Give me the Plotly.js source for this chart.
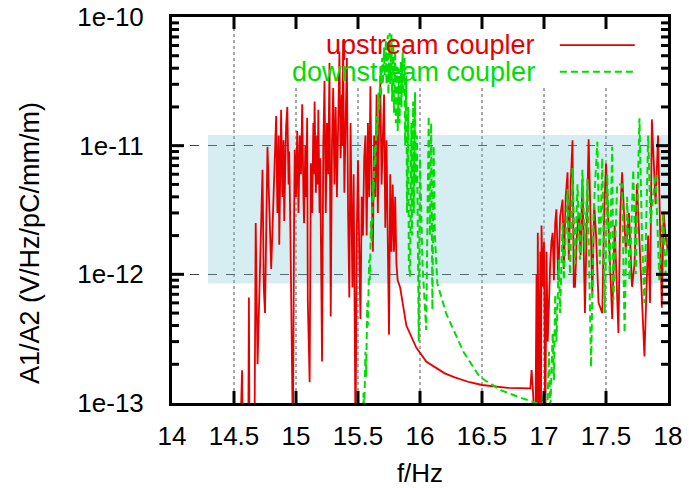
<!DOCTYPE html>
<html>
<head>
<meta charset="utf-8">
<script src="https://cdn.plot.ly/plotly-3.0.1.min.js"></script>
<style>html,body{margin:0;padding:0;background:#fff;}#chart{width:689px;height:488px;}</style>
</head>
<body>
<div id="chart"></div>
<script>
// ---- upstream coupler (red) ----
const upFreq = [
  14.550,14.565,14.570,14.615,14.620,14.625,14.665,14.675,14.690,14.700,
  14.730,14.740,14.750,14.770,14.800,14.840,14.850,14.860,14.865,14.880,
  14.890,14.900,14.905,14.920,14.930,14.940,14.945,14.955,14.975,14.985,
  14.990,15.000,15.010,15.020,15.030,15.040,15.050,15.060,15.065,15.075,
  15.080,15.090,15.095,15.110,15.120,15.130,15.140,15.145,15.150,15.160,
  15.170,15.175,15.180,15.190,15.195,15.210,15.220,15.230,15.240,15.250,
  15.260,15.270,15.280,15.290,15.300,15.310,15.320,15.330,15.340,15.350,
  15.360,15.370,15.375,15.380,15.390,15.400,15.410,15.420,15.430,15.440,
  15.455,15.465,15.480,15.490,15.500,15.510,15.520,15.530,15.540,15.550,
  15.560,15.570,15.580,15.590,15.600,15.610,15.620,15.630,15.640,15.650,
  15.660,15.670,15.680,15.690,15.700,15.710,15.720,15.730,15.745,15.750,
  15.760,15.770,15.780,15.790,15.800,15.810,15.820,15.840,15.860,15.890,
  15.970,16.050,16.120,16.200,16.280,16.400,16.500,16.600,16.710,16.890,
  16.900,16.910,16.930,16.940,16.945,16.950,16.960,16.970,16.975,16.980,
  16.990,17.000,17.010,17.020,17.030,17.050,17.060,17.070,17.080,17.090,
  17.100,17.115,17.130,17.150,17.160,17.175,17.190,17.200,17.215,17.230,
  17.240,17.250,17.265,17.280,17.295,17.310,17.330,17.345,17.360,17.390,
  17.405,17.420,17.440,17.470,17.485,17.500,17.530,17.550,17.570,17.600,
  17.615,17.630,17.660,17.685,17.710,17.730,17.750,17.780,17.810,17.840,
  17.855,17.870,17.900,17.920,17.950,17.965,17.980,18.000
];
const upAmp = [
  5e-14,1.8e-13,5e-14,5e-14,6.6e-13,5e-14,5e-14,2.5e-12,2.0e-13,5e-13,
  6.5e-12,7.9e-13,5e-13,9.8e-12,1.1e-12,1.7e-11,3e-12,1.2e-11,1.7e-12,1.9e-11,
  4e-12,1.1e-11,2.6e-12,1.4e-11,2.0e-11,5e-12,9e-12,2.1e-12,5e-14,3e-12,
  9.3e-12,4e-12,1.3e-11,3e-12,1.2e-11,6e-12,2.1e-11,4e-12,2.5e-12,1e-11,
  4e-12,1.65e-11,6.3e-13,1.45e-13,7.3e-12,3e-12,1.5e-11,6e-12,2.2e-11,4.3e-12,
  1.2e-11,5e-12,1.9e-11,3e-12,8e-12,2.1e-13,1e-11,3.2e-11,3e-12,1.5e-11,
  6e-12,4.4e-11,4.7e-13,1e-11,2.8e-11,5e-12,2e-11,4e-12,1.8e-11,5.4e-11,
  8e-12,2.5e-11,1e-11,6.6e-11,4.3e-12,2e-11,4.8e-11,3e-12,6.6e-13,1.5e-11,
  7.9e-13,6e-12,5e-14,2e-12,7.7e-12,1.5e-12,4.5e-13,4e-12,2e-12,8e-12,
  1.2e-11,2e-12,1.5e-11,4e-12,2.9e-11,5e-12,1.5e-12,1.2e-11,4e-12,2.5e-11,
  3e-12,1.5e-11,3.1e-11,5e-12,1.5e-11,2.5e-11,2.3e-12,1.1e-11,8e-13,3.4e-13,
  6e-12,1.5e-12,5e-12,1.5e-12,4e-12,1.2e-12,9e-13,7.9e-13,6e-13,4e-13,
  2.7e-13,2.1e-13,1.9e-13,1.7e-13,1.58e-13,1.45e-13,1.38e-13,1.34e-13,1.31e-13,1.30e-13,
  1.8e-13,1.3e-13,5e-14,1.0e-12,5e-14,2.1e-12,5e-14,1.5e-12,5e-14,2.4e-12,
  8e-13,1.8e-12,5e-14,1.5e-12,3e-13,1.2e-12,1.8e-12,2.1e-12,9e-13,2.5e-12,
  3.2e-12,9e-13,2.8e-12,3.8e-12,1.1e-12,4e-12,6.2e-12,1.3e-12,5e-12,1.1e-11,
  8e-13,8e-13,2e-12,3e-12,1.4e-12,5.5e-12,5e-13,2.5e-12,1.12e-11,7e-13,
  3.5e-12,2e-12,6e-13,5e-13,3e-12,7.3e-12,1.5e-12,4.5e-13,2.4e-12,3.5e-13,
  3e-12,6.2e-12,1.5e-12,3e-12,8e-13,1.2e-12,5e-12,1e-12,2.3e-13,2e-12,
  6e-13,1.6e-11,3.5e-12,1.2e-11,5.5e-13,3e-12,2e-12,1.5e-12
];

// ---- downstream coupler (green) ----
const downFreq = [
  15.530,15.545,15.550,15.560,15.565,15.575,15.580,15.590,15.595,15.605,
  15.610,15.620,15.625,15.635,15.640,15.650,15.655,15.665,15.670,15.680,
  15.685,15.695,15.700,15.710,15.715,15.725,15.730,15.740,15.745,15.755,
  15.760,15.770,15.775,15.785,15.790,15.800,15.805,15.815,15.820,15.830,
  15.835,15.845,15.850,15.860,15.865,15.875,15.880,15.890,15.895,15.905,
  15.910,15.920,15.930,15.935,15.945,15.950,15.960,15.965,15.975,15.990,
  16.000,16.020,16.050,16.070,16.080,16.090,16.100,16.110,16.120,16.130,
  16.140,16.210,16.350,16.480,16.650,16.810,16.940,16.980,17.000,17.020,
  17.040,17.050,17.070,17.080,17.090,17.100,17.120,17.130,17.150,17.160,
  17.190,17.210,17.230,17.250,17.270,17.290,17.310,17.330,17.350,17.380,
  17.400,17.430,17.450,17.470,17.490,17.510,17.530,17.550,17.560,17.590,
  17.630,17.650,17.670,17.690,17.720,17.740,17.770,17.790,17.810,17.840,
  17.860,17.880,17.900,17.930,17.960,17.980,18.000
];
const downAmp = [
  5e-14,1.2e-13,8e-14,2.5e-13,1.6e-13,6e-13,4e-13,1.3e-12,9e-13,2.6e-12,
  1.8e-12,5.5e-12,3.8e-12,1e-11,7e-12,1.7e-11,1.2e-11,2.6e-11,1.9e-11,3.6e-11,
  2.4e-11,4.8e-11,3e-11,5.8e-11,3.5e-11,6.6e-11,3e-11,7.2e-11,2.5e-11,7.5e-11,
  3e-11,7.3e-11,2.2e-11,6.8e-11,1.8e-11,5.5e-11,1.5e-11,4e-11,1.3e-11,3.5e-11,
  1.5e-11,4.5e-11,2e-11,5.3e-11,2.5e-11,4.8e-11,1e-11,3.5e-11,3e-12,2e-11,
  1.2e-12,9.6e-13,1.5e-11,2e-12,2.2e-11,3e-12,2.6e-11,5e-12,1.2e-11,3e-13,
  8e-12,1.2e-12,3.7e-13,1.7e-11,2e-12,1.5e-11,5.3e-13,1e-11,2e-12,1.1e-12,
  8.5e-13,5e-13,2.5e-13,1.6e-13,1.26e-13,1.1e-13,1.0e-13,8e-14,1.2e-13,5e-14,
  2.5e-13,8e-14,3.5e-13,1.5e-13,7e-13,3e-13,1.3e-12,5e-13,2.5e-12,9e-13,
  4.6e-12,1e-12,6.7e-12,1.2e-12,5e-12,1.3e-12,6.5e-12,1.5e-12,5.5e-12,1.9e-13,
  3e-12,1.07e-11,1.2e-12,8e-12,5e-13,6e-12,1e-12,9.8e-12,6.3e-13,5e-12,
  5e-12,3.5e-13,4e-12,9e-13,6.5e-12,1e-12,1.63e-11,2e-12,6e-13,1.2e-11,
  2.5e-12,4e-12,6e-12,9e-13,3e-12,1e-12,2e-12
];

// ---- shaded band ----
const bandFreq = [14.29, 18.02, 18.02, 14.29, 14.29];
const bandAmp = [8.5e-13, 8.5e-13, 1.21e-11, 1.21e-11, 8.5e-13];

// ---- ticks ----
const xTicks = [14, 14.5, 15, 15.5, 16, 16.5, 17, 17.5, 18];
const xTickText = ['14', '14.5', '15', '15.5', '16', '16.5', '17', '17.5', '18'];
const xInnerTicks = [14.5, 15, 15.5, 16, 16.5, 17, 17.5];
const yTicks = [1e-13, 1e-12, 1e-11, 1e-10];
const yTickText = ['1e-13', '1e-12', '1e-11', '1e-10'];
const yInnerTicks = [1e-12, 1e-11];
const yMinorTicks = [2e-13,3e-13,4e-13,5e-13,6e-13,7e-13,8e-13,9e-13,
                     2e-12,3e-12,4e-12,5e-12,6e-12,7e-12,8e-12,9e-12,
                     2e-11,3e-11,4e-11,5e-11,6e-11,7e-11,8e-11,9e-11];
const gridFreq = [14.5, 15, 15.5, 16, 16.5, 17, 17.5];
const yRange = [-13, -10];

const FONT = 'Liberation Sans, Arial, sans-serif';
const RED = '#e60000';
const GREEN = '#00dd00';
const DASH = '7px,4px';

const traces = [
  {x: bandFreq, y: bandAmp, type: 'scatter', mode: 'none', fill: 'toself',
   fillcolor: 'rgba(120,200,210,0.30)', hoverinfo: 'skip', showlegend: false},
  {x: upFreq, y: upAmp, type: 'scatter', mode: 'lines', name: 'upstream coupler',
   line: {color: RED, width: 1.8}, showlegend: false},
  {x: downFreq, y: downAmp, type: 'scatter', mode: 'lines', name: 'downstream coupler',
   line: {color: GREEN, width: 2, dash: DASH}, showlegend: false}
];

const plotW = 689 - 172 - 21;
const plotH = 488 - 17 - 85;
const toPaperY = v => (Math.log10(v) - yRange[0]) / (yRange[1] - yRange[0]);
const tickLine = {color: '#000', width: 3};

const shapes = gridFreq.map(f => ({
  type: 'line', xref: 'x', yref: 'paper', x0: f, x1: f, y0: 0,
  y1: f === 14.5 ? 1 : 0.816, layer: 'below',
  line: {color: '#555', width: 1, dash: 'dot'}
}));
// x ticks, bottom and top (drawn as inside ticks)
xInnerTicks.forEach(f => {
  shapes.push({type: 'line', xref: 'x', yref: 'paper', x0: f, x1: f, y0: 0, y1: 12 / plotH, layer: 'above', line: tickLine});
  shapes.push({type: 'line', xref: 'x', yref: 'paper', x0: f, x1: f, y0: 1 - 12 / plotH, y1: 1, layer: 'above', line: tickLine});
});
// y major and minor ticks, left and right
const addYTick = (v, len) => {
  const p = toPaperY(v);
  shapes.push({type: 'line', xref: 'paper', yref: 'paper', x0: 0, x1: len / plotW, y0: p, y1: p, layer: 'above', line: tickLine});
  shapes.push({type: 'line', xref: 'paper', yref: 'paper', x0: 1 - len / plotW, x1: 1, y0: p, y1: p, layer: 'above', line: tickLine});
};
yInnerTicks.forEach(v => addYTick(v, 12));
yMinorTicks.forEach(v => addYTick(v, 7));
// legend samples
shapes.push({type: 'line', xref: 'paper', yref: 'paper', x0: 0.782, x1: 0.933, y0: 0.927, y1: 0.927,
  line: {color: RED, width: 1.8}});
shapes.push({type: 'line', xref: 'paper', yref: 'paper', x0: 0.782, x1: 0.933, y0: 0.858, y1: 0.858,
  line: {color: GREEN, width: 2, dash: DASH}});

const layout = {
  width: 689, height: 488,
  margin: {l: 172, r: 21, t: 17, b: 85},
  paper_bgcolor: '#fff', plot_bgcolor: '#fff',
  font: {family: FONT, size: 26, color: '#000'},
  showlegend: false,
  xaxis: {
    range: [14, 18], tickvals: xTicks, ticktext: xTickText,
    ticks: '', showline: true, linewidth: 3, linecolor: '#000', mirror: true,
    showgrid: false, zeroline: false, ticklabelstandoff: 8,
    tickfont: {family: FONT, size: 26},
    title: {text: 'f/Hz', font: {family: FONT, size: 26}, standoff: 18}
  },
  yaxis: {
    type: 'log', range: yRange, tickvals: yTicks, ticktext: yTickText,
    ticks: '', showline: true, linewidth: 3, linecolor: '#000', mirror: true,
    showgrid: true, gridcolor: '#444', gridwidth: 1, griddash: 'dash',
    zeroline: false, ticklabelstandoff: 20,
    tickfont: {family: FONT, size: 26}
  },
  shapes: shapes,
  annotations: [
    {text: 'A1/A2 (V/Hz/pC/mm/m)', xref: 'paper', yref: 'paper', x: -0.286, y: 0.415,
     xanchor: 'center', yanchor: 'middle', textangle: -90, showarrow: false,
     font: {family: FONT, size: 27, color: '#000'}},
    {text: 'upstream coupler', xref: 'paper', yref: 'paper', x: 0.736, y: 0.927,
     xanchor: 'right', yanchor: 'middle', showarrow: false,
     font: {family: FONT, size: 27, color: RED}},
    {text: 'downstream coupler', xref: 'paper', yref: 'paper', x: 0.736, y: 0.858,
     xanchor: 'right', yanchor: 'middle', showarrow: false,
     font: {family: FONT, size: 27, color: GREEN}}
  ]
};

Plotly.newPlot('chart', traces, layout, {displayModeBar: false, staticPlot: true});
</script>
</body>
</html>
